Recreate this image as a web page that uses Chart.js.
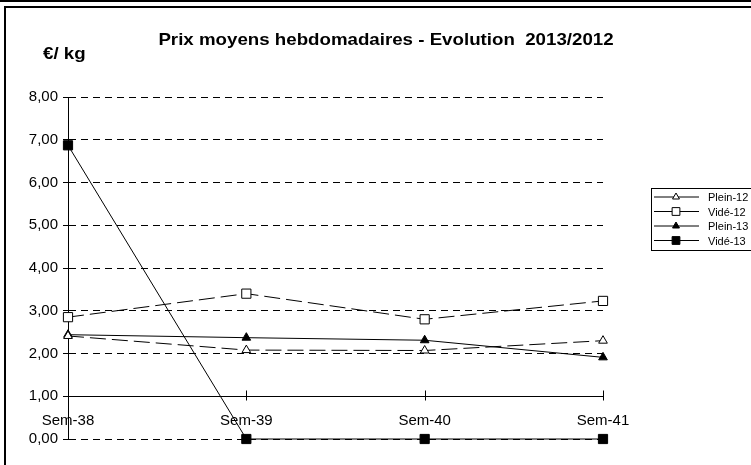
<!DOCTYPE html>
<html>
<head>
<meta charset="utf-8">
<script src="https://cdn.jsdelivr.net/npm/chart.js@4/dist/chart.umd.min.js"></script>
<style>
  body { margin: 0; background: #fff; }
  #wrap { width: 751px; height: 465px; }
</style>
</head>
<body>
<div id="wrap"><canvas id="prixChart" width="751" height="465"></canvas></div>
<script>
// Data
const weeks = ['Sem-38', 'Sem-39', 'Sem-40', 'Sem-41'];
const plein12 = [2.41, 2.08, 2.07, 2.30];
const vide12 = [2.85, 3.40, 2.80, 3.23];
const plein13 = [2.44, 2.37, 2.31, 1.91];
const vide13 = [6.87, 0, 0, 0];
const yTicks = [0, 1, 2, 3, 4, 5, 6, 7, 8];

const FONT = "'Liberation Sans', Arial, sans-serif";

function fmt(v) {
    return v.toFixed(2).replace('.', ',');
}

// text slightly stretched horizontally, like the original export
function wideText(ctx, text, x, y, align) {
    ctx.save();
    ctx.translate(x, y);
    ctx.scale(1.1, 1);
    ctx.textAlign = align;
    ctx.fillText(text, 0, 0);
    ctx.restore();
}

// Frame, title, unit label and the custom legend
const decorations = {
    id: 'decorations',
    beforeDraw(chart) {
        const ctx = chart.ctx;
        ctx.save();
        ctx.fillStyle = '#fff';
        ctx.fillRect(0, 0, chart.width, chart.height);
        ctx.strokeStyle = '#000';
        ctx.lineWidth = 2;
        ctx.beginPath();
        ctx.moveTo(0, 1); ctx.lineTo(chart.width, 1);
        ctx.moveTo(5, chart.height + 2); ctx.lineTo(5, 7); ctx.lineTo(chart.width + 2, 7);
        ctx.stroke();

        ctx.fillStyle = '#000';
        ctx.font = 'bold 17px ' + FONT;
        ctx.textBaseline = 'alphabetic';
        wideText(ctx, 'Prix moyens hebdomadaires - Evolution  2013/2012', 386, 45, 'center');
        wideText(ctx, '€/ kg', 43, 59, 'left');
        ctx.restore();
    },
    afterDraw(chart) {
        const ctx = chart.ctx;
        const xs = chart.scales.x;
        const ys = chart.scales.y;
        ctx.save();
        // small tick marks on the category axis, pointing up
        ctx.strokeStyle = '#000';
        ctx.lineWidth = 1;
        const axisY = Math.round(ys.getPixelForValue(1)) + 0.5;
        ctx.beginPath();
        weeks.forEach((w, i) => {
            const px = Math.round(xs.getPixelForTick(i)) + 0.5;
            ctx.moveTo(px, axisY - 6);
            ctx.lineTo(px, axisY + 4);
        });
        ctx.stroke();

        // legend box
        const bx = 651, by = 188;
        ctx.strokeStyle = '#000';
        ctx.lineWidth = 1;
        ctx.strokeRect(bx + 0.5, by + 0.5, 120, 62);
        ctx.font = '11px ' + FONT;
        ctx.textBaseline = 'middle';
        ctx.textAlign = 'left';
        chart.data.datasets.forEach((ds, i) => {
            const ly = by + 9 + i * 14.5;
            ctx.strokeStyle = '#000';
            ctx.beginPath();
            ctx.moveTo(bx + 3, ly);
            ctx.lineTo(bx + 48, ly);
            ctx.stroke();
            ctx.fillStyle = ds.pointBackgroundColor;
            ctx.strokeStyle = '#000';
            Chart.helpers.drawPoint(ctx, {
                pointStyle: ds.pointStyle,
                radius: ds.pointRadius - 1,
                rotation: 0,
                borderWidth: 1
            }, bx + 25, ly);
            ctx.fillStyle = '#000';
            ctx.fillText(ds.label, bx + 57, ly + 1);
        });
        ctx.restore();
    }
};

function series(label, data, dash, open, style, radius) {
    return {
        label: label,
        data: data,
        borderColor: '#000',
        borderWidth: 1,
        borderDash: dash,
        pointStyle: style,
        pointRadius: radius,
        pointHoverRadius: radius,
        pointBackgroundColor: open ? '#fff' : '#000',
        pointBorderColor: '#000',
        pointBorderWidth: 1,
        tension: 0,
        clip: false
    };
}

new Chart(document.getElementById('prixChart'), {
    type: 'line',
    data: {
        labels: weeks,
        datasets: [
            series('Plein-12', plein12, [16, 6], true, 'triangle', 5),
            series('Vidé-12', vide12, [16, 6], true, 'rect', 6.5),
            series('Plein-13', plein13, [], false, 'triangle', 5),
            series('Vidé-13', vide13, [], false, 'rect', 6.5)
        ]
    },
    options: {
        responsive: false,
        animation: false,
        events: [],
        layout: { padding: { top: 97, right: 148, bottom: 26, left: 0 } },
        plugins: {
            legend: { display: false },
            title: { display: false },
            tooltip: { enabled: false }
        },
        scales: {
            x: {
                type: 'category',
                position: { y: 1 },
                offset: false,
                afterFit: s => { s.height = 0; },
                grid: { display: true, drawOnChartArea: false, tickLength: 6, tickColor: 'rgba(0,0,0,0)' },
                border: { display: true, color: '#000', width: 1 },
                ticks: { color: '#000', font: { family: FONT, size: 15 }, padding: 10, maxRotation: 0 }
            },
            y: {
                min: 0,
                max: 8,
                afterFit: s => { s.width = 68; },
                afterBuildTicks: s => { s.ticks = yTicks.map(v => ({ value: v })); },
                grid: { color: '#000', lineWidth: 1, tickLength: 5, tickColor: '#000' },
                border: { display: true, color: '#000', width: 1, dash: [7, 5] },
                ticks: { color: '#000', font: { family: FONT, size: 15 }, padding: 5, callback: v => fmt(v) }
            }
        }
    },
    plugins: [decorations]
});
</script>
</body>
</html>
